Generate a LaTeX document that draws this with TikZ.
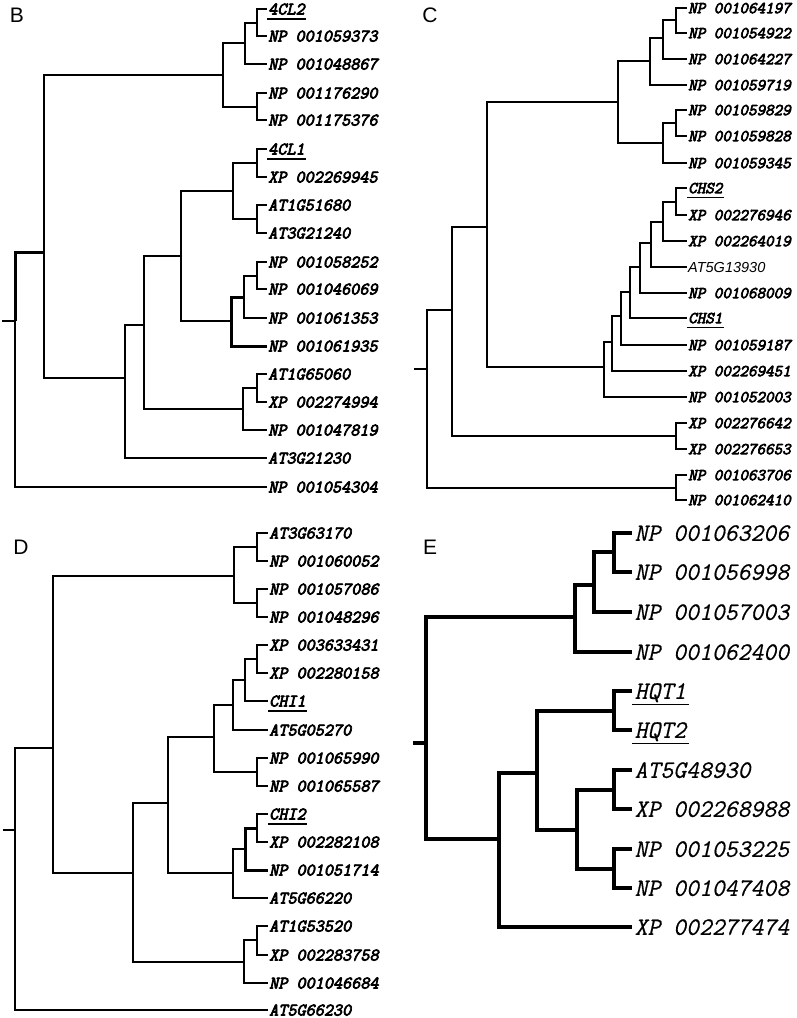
\documentclass[tikz,border=0pt]{standalone}
\usepackage{fontspec}
\setmainfont{Liberation Sans}
\setsansfont{Liberation Sans}
\newfontfamily\treefont{Latin Modern Mono}[FakeSlant=0.22, FakeBold=4]
\newfontfamily\etreefont{Latin Modern Mono}[FakeSlant=0.22, FakeBold=0.6]
\begin{document}
\begin{tikzpicture}[
        x=1pt, y=-1pt,
        branch/.style={line width=2pt},
        heavy/.style={line width=3pt},
        ebranch/.style={line width=3.8pt},
        uline/.style={line width=1.3pt},
        leaf/.style={anchor=west, inner sep=1pt, text depth=0pt, font=\fontsize{17.7}{18}\selectfont\treefont},
        cleaf/.style={leaf, font=\fontsize{16.6}{17}\selectfont\treefont},
        atleaf/.style={anchor=west, inner sep=1pt, text depth=0pt, font=\fontsize{14.5}{15}\selectfont\sffamily\itshape},
        eleaf/.style={anchor=west, inner sep=2.5pt, text depth=0pt, font=\fontsize{25}{26}\selectfont\etreefont},
        panel/.style={font=\fontsize{21}{24}\selectfont\sffamily}
    ]
    \useasboundingbox (0,0) rectangle (797,1018);

    % panel labels
    \node[panel] (labB) at (17,15) {B};
    \node[panel] (labC) at (430,15) {C};
    \node[panel] (labD) at (21,547) {D};
    \node[panel] (labE) at (430,547) {E};

    % ---------- B ----------
    \node[leaf] (b1) at (267,9) {4CL2};
    \node[leaf] (b2) at (267,36) {NP 001059373};
    \node[leaf] (b3) at (267,64) {NP 001048867};
    \node[leaf] (b4) at (267,93) {NP 001176290};
    \node[leaf] (b5) at (267,120) {NP 001175376};
    \node[leaf] (b6) at (267,149) {4CL1};
    \node[leaf] (b7) at (267,177) {XP 002269945};
    \node[leaf] (b8) at (267,205) {AT1G51680};
    \node[leaf] (b9) at (267,233) {AT3G21240};
    \node[leaf] (b10) at (267,262) {NP 001058252};
    \node[leaf] (b11) at (267,289) {NP 001046069};
    \node[leaf] (b12) at (267,318) {NP 001061353};
    \node[leaf] (b13) at (267,346) {NP 001061935};
    \node[leaf] (b14) at (267,374) {AT1G65060};
    \node[leaf] (b15) at (267,402) {XP 002274994};
    \node[leaf] (b16) at (267,430) {NP 001047819};
    \node[leaf] (b17) at (267,458) {AT3G21230};
    \node[leaf] (b18) at (267,487) {NP 001054304};

    \coordinate (bS) at (2,321);
    \coordinate (bR) at (15,321);
    \coordinate (bA) at (44,252);
    \coordinate (bB) at (223,75);
    \coordinate (bD) at (245,43);
    \coordinate (bF) at (257,23);
    \coordinate (bE) at (257,107);
    \coordinate (bC) at (125,378);
    \coordinate (bG) at (144,325);
    \coordinate (bH) at (181,256);
    \coordinate (bJ) at (233,191);
    \coordinate (bL) at (257,163);
    \coordinate (bM) at (257,219);
    \coordinate (bK) at (231,321);
    \coordinate (bN) at (244,297);
    \coordinate (bO) at (257,276);
    \coordinate (bI) at (243,409);
    \coordinate (bP) at (257,388);

    \draw[branch] (bS) -- (bR) |- (b18.west);
    \draw[heavy] (bR) |- (bA);
    \draw[branch] (bA) |- (bB) (bA) |- (bC);
    \draw[branch] (bB) |- (bD) (bB) |- (bE);
    \draw[branch] (bD) |- (bF) (bD) |- (b3.west);
    \draw[branch] (bF) |- (b1.west) (bF) |- (b2.west);
    \draw[branch] (bE) |- (b4.west) (bE) |- (b5.west);
    \draw[branch] (bC) |- (bG) (bC) |- (b17.west);
    \draw[branch] (bG) |- (bH) (bG) |- (bI);
    \draw[branch] (bH) |- (bJ) (bH) |- (bK);
    \draw[branch] (bJ) |- (bL) (bJ) |- (bM);
    \draw[branch] (bL) |- (b6.west) (bL) |- (b7.west);
    \draw[branch] (bM) |- (b8.west) (bM) |- (b9.west);
    \draw[heavy] (bK) |- (bN) (bK) |- (b13.west);
    \draw[branch] (bN) |- (bO) (bN) |- (b12.west);
    \draw[branch] (bO) |- (b10.west) (bO) |- (b11.west);
    \draw[branch] (bI) |- (bP) (bI) |- (b16.west);
    \draw[branch] (bP) |- (b14.west) (bP) |- (b15.west);
    \draw[uline] ([yshift=-4.5pt]b1.base west) -- ([yshift=-4.5pt]b1.base east);
    \draw[uline] ([yshift=-4.5pt]b6.base west) -- ([yshift=-4.5pt]b6.base east);

    % ---------- C ----------
    \node[cleaf] (c1) at (687,8) {NP 001064197};
    \node[cleaf] (c2) at (687,33) {NP 001054922};
    \node[cleaf] (c3) at (687,59) {NP 001064227};
    \node[cleaf] (c4) at (687,85) {NP 001059719};
    \node[cleaf] (c5) at (687,110) {NP 001059829};
    \node[cleaf] (c6) at (687,136) {NP 001059828};
    \node[cleaf] (c7) at (687,163) {NP 001059345};
    \node[cleaf] (c8) at (687,188) {CHS2};
    \node[cleaf] (c9) at (687,215) {XP 002276946};
    \node[cleaf] (c10) at (687,241) {XP 002264019};
    \node[atleaf] (c11) at (687,267) {AT5G13930};
    \node[cleaf] (c12) at (687,293) {NP 001068009};
    \node[cleaf] (c13) at (687,318) {CHS1};
    \node[cleaf] (c14) at (687,345) {NP 001059187};
    \node[cleaf] (c15) at (687,371) {XP 002269451};
    \node[cleaf] (c16) at (687,397) {NP 001052003};
    \node[cleaf] (c17) at (687,423) {XP 002276642};
    \node[cleaf] (c18) at (687,449) {XP 002276653};
    \node[cleaf] (c19) at (687,475) {NP 001063706};
    \node[cleaf] (c20) at (687,500) {NP 001062410};

    \coordinate (cS0) at (414,369);
    \coordinate (cR) at (427,369);
    \coordinate (cA) at (452,310);
    \coordinate (cB) at (676,488);
    \coordinate (cC) at (487,227);
    \coordinate (cD) at (676,436);
    \coordinate (cE) at (618,102);
    \coordinate (cG) at (650,61);
    \coordinate (cI) at (663,38);
    \coordinate (cJ) at (676,20);
    \coordinate (cH) at (663,143);
    \coordinate (cK) at (676,123);
    \coordinate (cF) at (604,367);
    \coordinate (cL) at (612,342);
    \coordinate (cM) at (621,316);
    \coordinate (cN) at (630,292);
    \coordinate (cO) at (640,267);
    \coordinate (cP) at (651,243);
    \coordinate (cQ) at (663,222);
    \coordinate (cS) at (676,202);

    \draw[branch] (cS0) -- (cR) |- (cA) (cR) |- (cB);
    \draw[branch] (cB) |- (c19.west) (cB) |- (c20.west);
    \draw[branch] (cA) |- (cC) (cA) |- (cD);
    \draw[branch] (cD) |- (c17.west) (cD) |- (c18.west);
    \draw[branch] (cC) |- (cE) (cC) |- (cF);
    \draw[branch] (cE) |- (cG) (cE) |- (cH);
    \draw[branch] (cG) |- (cI) (cG) |- (c4.west);
    \draw[branch] (cI) |- (cJ) (cI) |- (c3.west);
    \draw[branch] (cJ) |- (c1.west) (cJ) |- (c2.west);
    \draw[branch] (cH) |- (cK) (cH) |- (c7.west);
    \draw[branch] (cK) |- (c5.west) (cK) |- (c6.west);
    \draw[branch] (cF) |- (cL) (cF) |- (c16.west);
    \draw[branch] (cL) |- (cM) (cL) |- (c15.west);
    \draw[branch] (cM) |- (cN) (cM) |- (c14.west);
    \draw[branch] (cN) |- (cO) (cN) |- (c13.west);
    \draw[branch] (cO) |- (cP) (cO) |- (c12.west);
    \draw[branch] (cP) |- (cQ) (cP) |- (c11.west);
    \draw[branch] (cQ) |- (cS) (cQ) |- (c10.west);
    \draw[branch] (cS) |- (c8.west) (cS) |- (c9.west);
    \draw[uline] ([yshift=-4.5pt]c8.base west) -- ([yshift=-4.5pt]c8.base east);
    \draw[uline] ([yshift=-4.5pt]c13.base west) -- ([yshift=-4.5pt]c13.base east);

    % ---------- D ----------
    \node[leaf] (d1) at (268,533) {AT3G63170};
    \node[leaf] (d2) at (268,561) {NP 001060052};
    \node[leaf] (d3) at (268,589) {NP 001057086};
    \node[leaf] (d4) at (268,617) {NP 001048296};
    \node[leaf] (d5) at (268,645) {XP 003633431};
    \node[leaf] (d6) at (268,673) {XP 002280158};
    \node[leaf] (d7) at (268,701) {CHI1};
    \node[leaf] (d8) at (268,730) {AT5G05270};
    \node[leaf] (d9) at (268,758) {NP 001065990};
    \node[leaf] (d10) at (268,786) {NP 001065587};
    \node[leaf] (d11) at (268,814) {CHI2};
    \node[leaf] (d12) at (268,842) {XP 002282108};
    \node[leaf] (d13) at (268,870) {NP 001051714};
    \node[leaf] (d14) at (268,898) {AT5G66220};
    \node[leaf] (d15) at (268,926) {AT1G53520};
    \node[leaf] (d16) at (268,955) {XP 002283758};
    \node[leaf] (d17) at (268,983) {NP 001046684};
    \node[leaf] (d18) at (268,1010) {AT5G66230};

    \coordinate (dS) at (3,830);
    \coordinate (dR) at (15,830);
    \coordinate (dA) at (53,748);
    \coordinate (dB) at (234,576);
    \coordinate (dD) at (257,547);
    \coordinate (dE) at (257,603);
    \coordinate (dC) at (133,873);
    \coordinate (dF) at (168,803);
    \coordinate (dI) at (214,737);
    \coordinate (dK) at (233,705);
    \coordinate (dM) at (245,680);
    \coordinate (dN) at (257,659);
    \coordinate (dL) at (257,772);
    \coordinate (dJ) at (233,873);
    \coordinate (dO) at (245,849);
    \coordinate (dP) at (257,828);
    \coordinate (dG) at (244,962);
    \coordinate (dH) at (257,940);

    \draw[branch] (dS) -- (dR) |- (dA) (dR) |- (d18.west);
    \draw[branch] (dA) |- (dB) (dA) |- (dC);
    \draw[branch] (dB) |- (dD) (dB) |- (dE);
    \draw[branch] (dD) |- (d1.west) (dD) |- (d2.west);
    \draw[branch] (dE) |- (d3.west) (dE) |- (d4.west);
    \draw[branch] (dC) |- (dF) (dC) |- (dG);
    \draw[branch] (dF) |- (dI) (dF) |- (dJ);
    \draw[branch] (dI) |- (dK) (dI) |- (dL);
    \draw[branch] (dK) |- (dM) (dK) |- (d8.west);
    \draw[branch] (dM) |- (dN) (dM) |- (d7.west);
    \draw[branch] (dN) |- (d5.west) (dN) |- (d6.west);
    \draw[branch] (dL) |- (d9.west) (dL) |- (d10.west);
    \draw[branch] (dJ) |- (dO) (dJ) |- (d14.west);
    \draw[heavy] (dO) |- (dP) (dO) |- (d13.west);
    \draw[branch] (dP) |- (d11.west) (dP) |- (d12.west);
    \draw[branch] (dG) |- (dH) (dG) |- (d17.west);
    \draw[branch] (dH) |- (d15.west) (dH) |- (d16.west);
    \draw[uline] ([yshift=-4.5pt]d7.base west) -- ([yshift=-4.5pt]d7.base east);
    \draw[uline] ([yshift=-4.5pt]d11.base west) -- ([yshift=-4.5pt]d11.base east);

    % ---------- E ----------
    \node[eleaf] (e1) at (632,533) {NP 001063206};
    \node[eleaf] (e2) at (632,572) {NP 001056998};
    \node[eleaf] (e3) at (632,612) {NP 001057003};
    \node[eleaf] (e4) at (632,652) {NP 001062400};
    \node[eleaf] (e5) at (632,691) {HQT1};
    \node[eleaf] (e6) at (632,730) {HQT2};
    \node[eleaf] (e7) at (632,770) {AT5G48930};
    \node[eleaf] (e8) at (632,809) {XP 002268988};
    \node[eleaf] (e9) at (632,849) {NP 001053225};
    \node[eleaf] (e10) at (632,888) {NP 001047408};
    \node[eleaf] (e11) at (632,927) {XP 002277474};

    \coordinate (eS) at (413,743);
    \coordinate (eR) at (426,743);
    \coordinate (eA) at (575,617);
    \coordinate (eC) at (594,585);
    \coordinate (eD) at (614,552);
    \coordinate (eB) at (499,839);
    \coordinate (eF) at (537,773);
    \coordinate (eG) at (614,711);
    \coordinate (eH) at (577,830);
    \coordinate (eI) at (614,790);
    \coordinate (eJ) at (614,869);

    \draw[ebranch] (eS) -- (eR) |- (eA) (eR) |- (eB);
    \draw[ebranch] (eA) |- (eC) (eA) |- (e4.west);
    \draw[ebranch] (eC) |- (eD) (eC) |- (e3.west);
    \draw[ebranch] (eD) |- (e1.west) (eD) |- (e2.west);
    \draw[ebranch] (eB) |- (eF) (eB) |- (e11.west);
    \draw[ebranch] (eF) |- (eG) (eF) |- (eH);
    \draw[ebranch] (eG) |- (e5.west) (eG) |- (e6.west);
    \draw[ebranch] (eH) |- (eI) (eH) |- (eJ);
    \draw[ebranch] (eI) |- (e7.west) (eI) |- (e8.west);
    \draw[ebranch] (eJ) |- (e9.west) (eJ) |- (e10.west);
    \draw[uline] ([yshift=-6pt]e5.base west) -- ([yshift=-6pt]e5.base east);
    \draw[uline] ([yshift=-6pt]e6.base west) -- ([yshift=-6pt]e6.base east);

\end{tikzpicture}
\end{document}
